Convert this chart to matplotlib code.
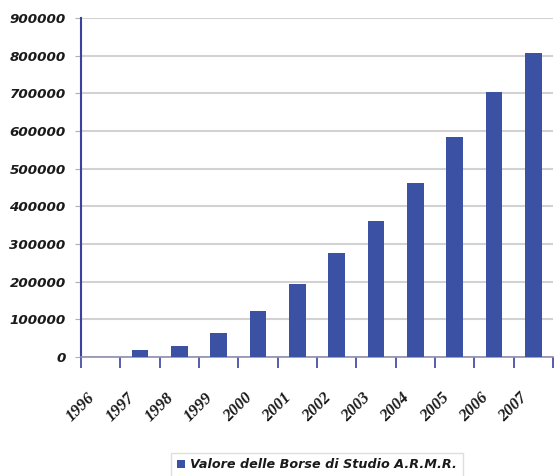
import matplotlib.pyplot as plt
import numpy as np

years = ["1996", "1997", "1998", "1999", "2000", "2001",
         "2002", "2003", "2004", "2005", "2006", "2007"]
values = [0, 19000, 30000, 63000, 122000, 194000,
          275000, 362000, 463000, 584000, 703000, 806000]
yticks = [0, 100000, 200000, 300000, 400000, 500000,
          600000, 700000, 800000, 900000]

bar_color = "#3b51a3"
axis_blue = "#3a41a0"

fig = plt.figure(figsize=(5.54, 4.76), dpi=100)
ax = fig.add_axes([81 / 554, 1 - 357 / 476, 472 / 554, 339 / 476])

x = np.arange(len(years))
ax.bar(x, values, width=0.42, color=bar_color, label="Valore delle Borse di Studio A.R.M.R.",
       zorder=3)

ax.set_xlim(-0.5, len(years) - 0.5)
ax.set_ylim(0, 900000)
ax.set_yticks(yticks)
ax.set_yticklabels([str(v) for v in yticks], fontsize=9.7, fontweight="bold",
                   fontstyle="italic", color="#1a1a1a")
ax.yaxis.grid(True, color="#d2d2d2", linewidth=1.5, zorder=0)
ax.tick_params(axis="y", length=4, color="#b0b0b0", pad=7)

# tick marks at category boundaries, labels drawn separately
ax.set_xticks(np.arange(len(years) + 1) - 0.5)
ax.set_xticklabels([])
ax.tick_params(axis="x", length=8, width=1.2, color=axis_blue)

for i, yr in enumerate(years):
    ax.annotate(yr, xy=(i, 0), xycoords=("data", "axes fraction"),
                xytext=(-8, -38), textcoords="offset pixels",
                rotation=45, ha="right", va="center", rotation_mode="anchor",
                fontsize=12, fontweight="bold", fontstyle="italic",
                family="Liberation Serif", color="#1a1a1a")

for s in ["top", "right"]:
    ax.spines[s].set_visible(False)
ax.spines["left"].set_color(axis_blue)
ax.spines["left"].set_linewidth(1.5)
ax.spines["bottom"].set_color("#9090b0")
ax.spines["bottom"].set_linewidth(1.2)

leg = fig.legend(loc="center", bbox_to_anchor=(317 / 554, 1 - 465 / 476),
                 frameon=True, fancybox=False, handlelength=0.6, handleheight=0.6,
                 handletextpad=0.4, borderpad=0.45,
                 prop={"size": 9.2, "weight": "bold", "style": "italic"})
leg.get_frame().set_edgecolor("#d8d8d8")
leg.get_frame().set_linewidth(1.0)
for t in leg.get_texts():
    t.set_color("#1a1a1a")

fig.savefig("out.png", dpi=100)
